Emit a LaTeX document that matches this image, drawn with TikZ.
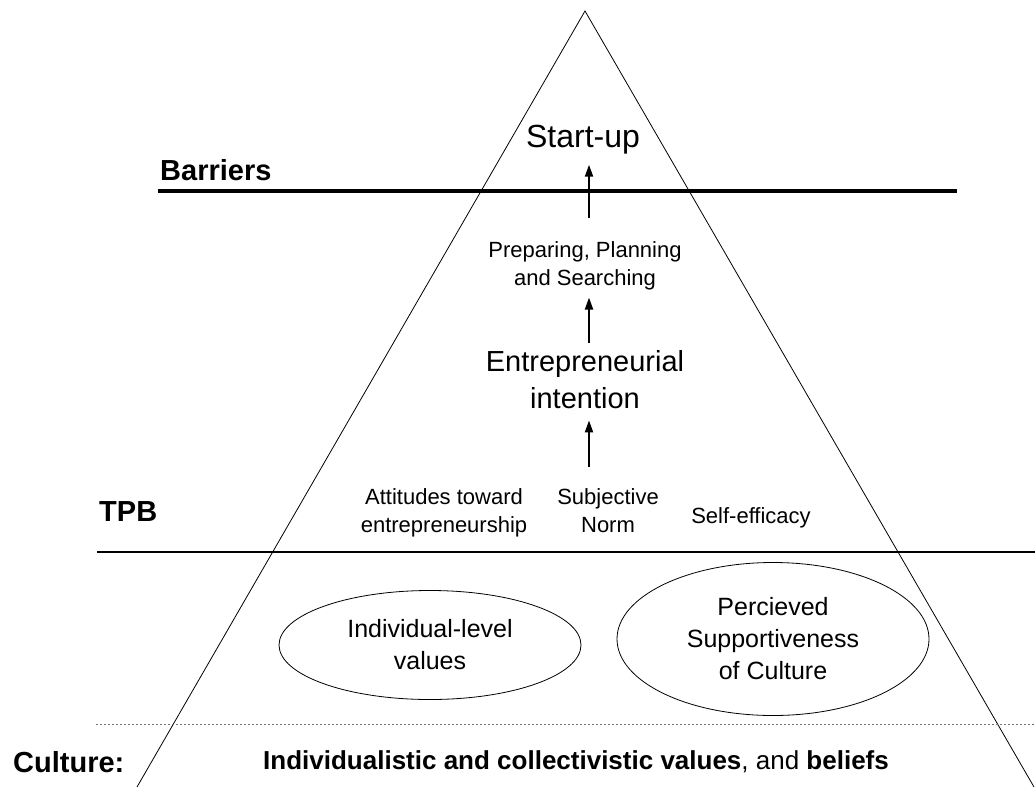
\documentclass[tikz,border=0pt]{standalone}
\usepackage{fontspec}
\setmainfont{Liberation Sans}
\usetikzlibrary{arrows.meta,shapes.geometric}
\tikzset{
  flow/.style={line width=2pt, -{Triangle[length=12pt,width=8pt]}},
  lbl/.style={align=center, inner sep=0pt},
  valbox/.style={draw, ellipse, line width=0.8pt, align=center, inner sep=0pt},
}
\newcommand{\fs}[1]{\fontsize{#1}{1.28\dimexpr#1pt\relax}\selectfont}

\begin{document}
\begin{tikzpicture}[x=1pt, y=-1pt]
			%%%%% START %%%%%
			\useasboundingbox (0,0) rectangle (1035,787);
			
			\draw[line width=0.8pt] (137,787) -- (585,11) -- (1034,787);
			
			\draw[line width=4.5pt] (158,191) -- (957,191);
			\draw[line width=2pt] (97,552) -- (1035,552);
			\draw[line width=1pt, color=black!55, dash pattern=on 2pt off 2pt] (96,724) -- (1035,724);
			
			\node[lbl, anchor=west, font=\fs{29}\bfseries] (barriers) at (160,170) {Barriers};
			\node[lbl, anchor=west, font=\fs{29}\bfseries] (tpb) at (99,512) {TPB};
			\node[lbl, anchor=west, font=\fs{29}\bfseries] (culture) at (13,762) {Culture:};
			
			\node[lbl, font=\fs{32}] (startup) at (583,140) {Start-up};
			\node[lbl, font=\fs{22}] (prep) at (585,266) {Preparing, Planning\\and Searching};
			\node[lbl, font=\fs{29}] (intent) at (585,380) {Entrepreneurial\\intention};
			
			\node[lbl, font=\fs{22}] (attit) at (444,513) {Attitudes toward\\entrepreneurship};
			\node[lbl, font=\fs{22}] (norm) at (608,511) {Subjective\\Norm};
			\node[lbl, font=\fs{22}] (selfeff) at (751,518) {Self-efficacy};
			
			\node[valbox, font=\fs{25}, minimum width=302, minimum height=109] (indiv) at (430,645) {Individual-level\\values};
			\node[valbox, font=\fs{25}, minimum width=312, minimum height=153] (support) at (773,639) {Percieved\\Supportiveness\\of Culture};
			
			\node[lbl, font=\fs{26}] (values) at (576,762) {\textbf{Individualistic and collectivistic values}, and \textbf{beliefs}};
			
			\draw[flow] ([xshift=4pt,yshift=23pt]prep.north) -- ([xshift=6pt,yshift=-10pt]startup.south);
			\draw[flow] ([xshift=4pt,yshift=8pt]intent.north) -- ([xshift=4pt,yshift=-7pt]prep.south);
			\draw[flow] ([xshift=-19pt,yshift=22pt]norm.north) -- ([xshift=4pt,yshift=-11pt]intent.south);
			%%%%% END %%%%%
\end{tikzpicture}
\end{document}
